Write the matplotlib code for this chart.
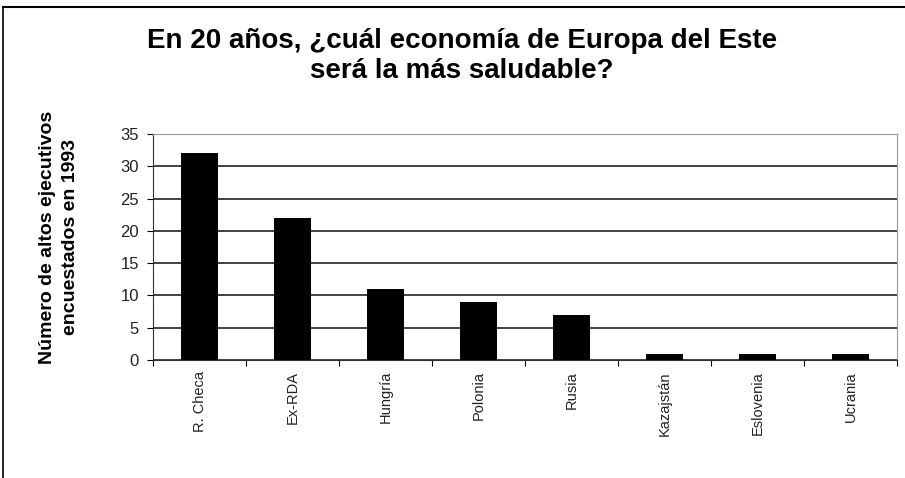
import matplotlib
matplotlib.use('Agg')
import matplotlib.pyplot as plt
from matplotlib.lines import Line2D

# Data
countries = ['R. Checa', 'Ex-RDA', 'Hungría', 'Polonia', 'Rusia',
             'Kazajstán', 'Eslovenia', 'Ucrania']
votes = [32, 22, 11, 9, 7, 1, 1, 1]
y_ticks = [0, 5, 10, 15, 20, 25, 30, 35]

plt.rcParams['font.family'] = ['Liberation Sans', 'DejaVu Sans']

fig = plt.figure(figsize=(9.05, 4.78), dpi=100)
ax = fig.add_axes([153 / 905, 1 - 360 / 478, (897 - 153) / 905, (360 - 134) / 478])

x = list(range(len(countries)))
ax.bar(x, votes, width=0.4, color='black', zorder=3)

ax.set_xlim(-0.5, len(countries) - 0.5)
ax.set_ylim(0, 35)
ax.set_yticks(y_ticks)
ax.tick_params(axis='y', labelsize=12, labelcolor='#222222', length=4, direction='out', pad=6)
ax.yaxis.grid(True, color='#333333', linewidth=1.3, zorder=0)

# category labels sit between boundary tick marks
ax.set_xticks([i - 0.5 for i in range(len(countries) + 1)])
ax.set_xticklabels([])
ax.set_xticks(x, minor=True)
ax.set_xticklabels(countries, minor=True, rotation=90, fontsize=10.5)
ax.tick_params(axis='x', which='major', length=4, direction='out')
ax.tick_params(axis='x', which='minor', length=0, pad=8, labelcolor='#222222')
for lbl in ax.get_xticklabels(minor=True):
    lbl.set_verticalalignment('top')

for side in ['top', 'right']:
    ax.spines[side].set_color('#999999')
ax.spines['left'].set_color('#333333')
ax.spines['bottom'].set_color('#333333')

fig.text(59 / 905, 1 - 237 / 478, 'Número de altos ejecutivos\nencuestados en 1993',
         rotation=90, ha='center', va='center', fontsize=14, fontweight='bold',
         linespacing=1.5)

fig.text(462 / 905, 1 - 56 / 478, 'En 20 años, ¿cuál economía de Europa del Este\nserá la más saludable?',
         ha='center', va='center', fontsize=20, fontweight='bold', linespacing=1.25)

# outer frame lines (left and top) as in the source image
fig.add_artist(Line2D([3 / 905, 3 / 905], [0, 1 - 7 / 478], color='black', linewidth=1.2))
fig.add_artist(Line2D([3 / 905, 1], [1 - 7 / 478, 1 - 7 / 478], color='black', linewidth=1.5))

fig.savefig('out.png', dpi=100)
